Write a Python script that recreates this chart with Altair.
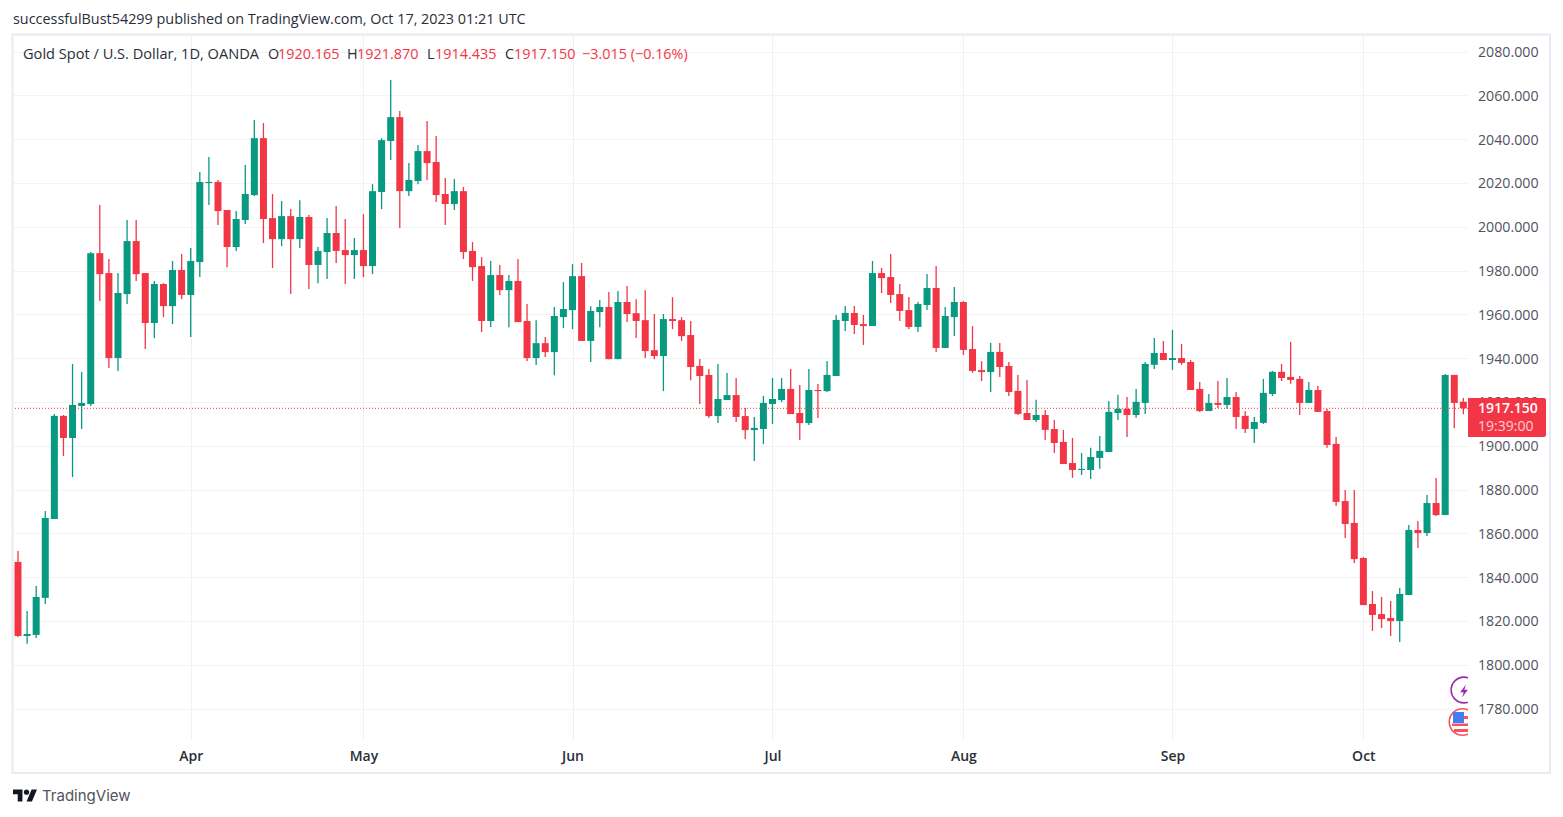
import altair as alt
import pandas as pd

highs = [1852.0,1824.6,1836.0,1870.3,1914.6,1914.1,1937.4,1933.8,1988.5,2010.0,
1985.3,1978.9,2003.1,2003.1,1978.9,1975.3,1974.3,1984.4,1987.6,1990.3,
2025.0,2031.9,2021.4,2007.7,2007.2,2028.2,2048.8,2047.4,2015.0,2011.8,
2008.1,2012.2,2005.4,1990.8,2004.0,2009.5,2003.6,1994.9,2005.8,2019.5,
2040.5,2067.0,2052.9,2029.1,2037.4,2048.3,2041.5,2022.3,2021.8,2018.2,
1993.1,1986.2,1984.4,1982.6,1978.0,1985.3,1964.8,1957.4,1949.7,1963.4,
1974.8,1983.0,1983.5,1963.8,1966.6,1970.2,1970.7,1973.0,1967.0,1971.1,
1960.2,1960.2,1967.9,1958.8,1957.0,1939.7,1935.1,1937.4,1933.3,1931.0,
1917.3,1913.2,1922.8,1931.0,1931.0,1935.1,1927.8,1935.1,1928.2,1938.7,
1959.8,1963.9,1963.9,1959.8,1984.4,1981.2,1987.6,1973.9,1968.0,1965.7,
1978.5,1982.1,1963.4,1972.5,1966.1,1954.7,1938.7,1947.0,1947.0,1938.3,
1932.4,1930.1,1921.0,1916.4,1911.8,1907.3,1903.6,1896.8,1899.1,1904.5,
1920.5,1923.3,1922.3,1926.0,1938.3,1949.3,1947.9,1952.9,1946.5,1939.2,
1929.2,1923.7,1929.6,1931.0,1924.6,1915.9,1913.2,1930.6,1934.2,1937.4,
1947.5,1931.9,1929.2,1927.4,1916.9,1904.1,1879.8,1879.8,1849.2,1833.7,
1831.0,1829.2,1835.1,1863.9,1865.7,1877.6,1885.3,1932.8,1932.4,1921.87]

body_tops = [1847.0,1814.1,1831.0,1867.1,1913.7,1913.7,1918.7,1919.6,1988.0,1988.0,
1978.9,1969.8,1993.5,1993.5,1978.9,1973.9,1973.9,1980.3,1980.3,1984.4,
2020.5,2020.5,2020.5,2007.7,2003.6,2015.0,2040.5,2040.5,2004.0,2004.9,
2004.9,2004.5,2004.5,1989.0,1997.2,1997.2,1989.4,1989.4,1989.4,2016.3,
2039.6,2050.1,2050.1,2021.4,2034.6,2034.6,2029.6,2015.0,2016.3,2016.3,
1989.0,1982.1,1978.0,1978.0,1975.3,1975.3,1957.0,1946.9,1946.9,1959.3,
1962.5,1977.5,1977.5,1961.6,1963.4,1963.4,1965.7,1965.7,1960.6,1957.4,
1943.7,1957.9,1957.9,1957.4,1950.6,1936.5,1932.4,1921.4,1923.2,1923.2,
1913.6,1908.2,1919.6,1921.4,1926.0,1926.0,1915.0,1925.5,1925.5,1932.4,
1957.5,1960.7,1960.7,1955.6,1978.9,1978.9,1977.1,1969.3,1962.0,1964.8,
1972.1,1972.1,1959.3,1965.7,1965.7,1944.2,1934.6,1942.9,1942.9,1936.5,
1925.1,1915.0,1914.1,1914.1,1907.7,1901.8,1892.2,1889.5,1894.9,1897.7,
1915.5,1916.9,1916.9,1920.1,1937.4,1942.4,1942.4,1940.1,1940.1,1938.3,
1926.0,1919.6,1919.6,1922.3,1922.3,1913.7,1910.9,1924.2,1933.8,1933.8,
1931.5,1930.6,1925.5,1925.5,1915.9,1900.9,1874.8,1864.8,1848.8,1827.8,
1823.2,1821.4,1832.4,1861.6,1861.6,1873.9,1873.9,1932.4,1932.4,1920.165]

body_bottoms = [1813.2,1813.2,1813.7,1830.6,1866.6,1903.6,1903.6,1918.2,1919.1,1978.4,
1940.1,1940.1,1969.3,1978.4,1956.1,1956.1,1963.8,1963.8,1968.9,1968.9,
1983.9,2020.0,2007.2,1990.8,1990.8,2003.1,2014.5,2003.6,1994.4,1994.4,
1994.4,1994.4,1982.6,1982.6,1988.5,1989.0,1987.1,1987.1,1982.1,1982.1,
2015.9,2039.2,2016.3,2016.3,2020.9,2029.1,2014.5,2010.4,2010.4,1988.5,
1981.6,1957.0,1957.0,1971.1,1971.1,1956.5,1940.1,1940.1,1942.8,1942.8,
1958.8,1962.0,1947.9,1947.9,1961.1,1939.6,1939.6,1960.2,1957.0,1943.3,
1941.0,1941.0,1957.0,1950.1,1936.0,1931.9,1913.6,1913.6,1920.9,1913.2,
1907.2,1907.2,1907.7,1919.1,1920.9,1914.5,1910.4,1910.4,1925.0,1925.0,
1931.9,1957.0,1955.2,1954.7,1954.7,1976.6,1968.9,1961.6,1954.3,1954.3,
1964.3,1944.7,1944.7,1958.8,1943.8,1934.2,1933.7,1933.7,1936.0,1924.6,
1914.6,1911.8,1911.8,1907.3,1901.3,1891.7,1889.0,1889.0,1889.0,1894.5,
1897.2,1915.0,1914.1,1914.1,1919.6,1937.0,1939.2,1939.2,1937.9,1925.5,
1915.9,1915.9,1918.7,1918.7,1913.2,1907.7,1907.7,1910.5,1923.7,1931.0,
1930.1,1919.6,1919.6,1915.5,1900.4,1874.4,1864.3,1848.3,1827.3,1822.8,
1820.9,1820.0,1820.0,1831.9,1860.2,1860.2,1868.4,1868.4,1919.6,1917.15]

lows = [1812.7,1809.6,1812.3,1827.8,1866.6,1895.4,1885.8,1907.7,1918.2,1966.1,
1935.5,1934.2,1964.8,1975.3,1944.2,1949.2,1958.8,1955.6,1967.0,1949.7,
1977.1,2010.0,2000.8,1981.6,1989.0,2001.3,2014.1,1992.6,1981.2,1991.2,
1969.3,1990.3,1971.6,1974.3,1976.2,1983.5,1973.9,1976.2,1977.1,1978.4,
2008.1,2030.5,1999.5,2014.1,2019.5,2021.4,2011.3,2000.8,2007.7,1985.3,
1975.3,1952.0,1954.2,1968.9,1954.2,1956.5,1938.7,1936.9,1940.6,1932.3,
1953.8,1953.3,1947.9,1938.3,1954.2,1939.6,1939.6,1956.5,1949.2,1940.1,
1939.6,1925.0,1953.3,1947.9,1930.0,1919.1,1912.7,1910.4,1920.9,1910.9,
1903.1,1893.1,1900.8,1910.0,1920.0,1914.5,1902.7,1909.5,1912.7,1924.6,
1931.9,1952.4,1951.1,1946.1,1954.7,1969.8,1965.2,1957.0,1953.4,1952.0,
1962.0,1942.9,1944.7,1950.2,1941.5,1933.3,1929.6,1924.6,1931.4,1922.8,
1914.1,1911.8,1910.9,1902.7,1896.8,1891.7,1885.4,1886.7,1884.9,1889.5,
1897.2,1911.8,1904.1,1912.8,1914.6,1935.1,1939.2,1934.7,1937.0,1925.5,
1915.5,1915.9,1917.3,1916.9,1907.7,1905.9,1901.3,1910.0,1922.8,1929.6,
1928.3,1914.1,1919.6,1915.5,1899.1,1872.6,1857.9,1846.5,1827.3,1815.5,
1816.8,1813.2,1810.4,1831.9,1853.4,1858.8,1868.0,1868.4,1908.1,1914.435]

directions = list(
    "rgggg" "rgggr" "rggrr" "grgrg" "ggrrg" "ggrrg" "rgrgg" "rrgrg"
    "ggrgg" "rrrgr" "rrgrg" "rrgrg" "ggrgg" "rgrrr" "rgrrr" "rrggr"
    "rgggg" "rrgrg" "ggrrg" "rrrrg" "grggr" "rrgrr" "rrgrr" "rrggg"
    "ggrgg" "grgrr" "rgrgr" "rgggr" "rrgrr" "rrrrr" "rrggr" "grgrr"
)

month_names = ["Apr", "May", "Jun", "Jul", "Aug", "Sep", "Oct"]
month_bars = [19, 38, 61, 83, 104, 127, 148]
price_ticks = [1780, 1800, 1820, 1840, 1860, 1880, 1900, 1920, 1940, 1960,
               1980, 2000, 2020, 2040, 2060, 2080]
last_close = 1917.15

published = "successfulBust54299 published on TradingView.com, Oct 17, 2023 01:21 UTC"
symbol_title = "Gold Spot / U.S. Dollar, 1D, OANDA"
ohlc_letters = ["O", "H", "L", "C"]
ohlc_values = ["1920.165", "1921.870", "1914.435", "1917.150"]
change_text = "\u22123.015 (\u22120.16%)"
price_label = "1917.150"
countdown = "19:39:00"
brand = "TradingView"

GREEN = "#089981"
RED = "#f23645"
FONT = "Open Sans"
TEXT_SIZE = 14.4
LEFT, TOP = 13, 35
W, H = 1455, 705

df = pd.DataFrame({
    "bar": range(len(highs)), "high": highs, "low": lows,
    "top": body_tops, "bottom": body_bottoms, "dir": directions,
})

x_scale = alt.Scale(domain=[-0.55, 159.51], nice=False, zero=False, padding=0)
y_scale = alt.Scale(domain=[1765.7, 2087.6], nice=False, zero=False, padding=0)
color = alt.Color("dir:N", scale=alt.Scale(domain=["g", "r"], range=[GREEN, RED]), legend=None)
label_expr = "".join(f"datum.value=={b}?'{n}':" for b, n in zip(month_bars, month_names)) + "''"

x_axis = alt.Axis(values=month_bars, labelExpr=label_expr, grid=True, gridColor="#eff0f4",
                  gridWidth=1, domain=False, ticks=False, title=None, labelPadding=9,
                  labelFont=FONT, labelFontSize=14, labelFontWeight=600, labelColor="#2a2e39",
                  labelOverlap=False, labelFlush=False)
y_axis = alt.Axis(values=price_ticks, format=".3f", orient="right", grid=True, gridColor="#f2f3f5",
                  gridWidth=1, domain=False, ticks=False, title=None, labelPadding=9.5,
                  labelFont=FONT, labelFontSize=14.2, labelColor="#50535e", labelOverlap=False,
                  labelFlush=False, labelOffset=0.8)

wicks = alt.Chart(df).mark_rule(strokeWidth=1.3).encode(
    x=alt.X("bar:Q", scale=x_scale, axis=x_axis),
    y=alt.Y("low:Q", scale=y_scale, axis=y_axis),
    y2="high:Q", color=color)
bodies = alt.Chart(df).mark_bar(size=7).encode(
    x=alt.X("bar:Q", scale=x_scale, axis=x_axis),
    y=alt.Y("bottom:Q", scale=y_scale, axis=y_axis),
    y2="top:Q", color=color)

one = pd.DataFrame({"k": [0]})


def label(text, px, py, col, size=14, weight=400, opacity=1.0, font=FONT):
    return alt.Chart(one).mark_text(text=text, align="left", baseline="middle", color=col,
                                    fontSize=size, fontWeight=weight, font=font, opacity=opacity
                                    ).encode(x=alt.value(px - LEFT), y=alt.value(py - TOP))


def box(x0, x1, y0, y1, fill, clip=False, **kw):
    return alt.Chart(one).mark_rect(fill=fill, clip=clip, **kw).encode(
        x=alt.value(x0 - LEFT), x2=alt.value(x1 - LEFT),
        y=alt.value(y0 - TOP), y2=alt.value(y1 - TOP))


def glyph(path, px, py, size, fill):
    return alt.Chart(one).mark_point(shape=path, size=size, filled=True, fill=fill, opacity=1,
                                     strokeWidth=0, clip=True).encode(
        x=alt.value(px - LEFT), y=alt.value(py - TOP))


def glyph_free(path, px, py, size, fill):
    return alt.Chart(one).mark_point(shape=path, size=size, filled=True, fill=fill, opacity=1,
                                     strokeWidth=0).encode(
        x=alt.value(px - LEFT), y=alt.value(py - TOP))


def ring(px, py, size, col):
    return alt.Chart(one).mark_point(shape="circle", size=size, filled=False, stroke=col, opacity=1,
                                     strokeWidth=1.6, clip=True).encode(
        x=alt.value(px - LEFT), y=alt.value(py - TOP))


frame = alt.Chart(one).mark_rect(fill="transparent", stroke="#e9eaf2", strokeWidth=2).encode(
    x=alt.value(12.5 - LEFT), x2=alt.value(1550 - LEFT),
    y=alt.value(34.5 - TOP), y2=alt.value(773 - TOP))

last_line = alt.Chart(pd.DataFrame({"p": [last_close]})).mark_rule(
    color=RED, strokeWidth=1, strokeDash=[1, 2]).encode(
    y=alt.Y("p:Q", scale=y_scale, axis=y_axis))

BOLT = "M 0.3 -1 L -0.6 0.2 L -0.05 0.2 L -0.3 1 L 0.6 -0.2 L 0.05 -0.2 Z"
LOGO = ("M -1 -0.507 H -0.212 V 0.507 H -0.606 V -0.113 H -1 Z "
        "M 0.127 0.507 L 0.549 -0.507 H 1 L 0.577 0.507 Z "
        "M -0.098 -0.28 A 0.225 0.225 0 1 0 0.352 -0.28 A 0.225 0.225 0 1 0 -0.098 -0.28 Z")

layers = [frame, wicks, bodies, last_line,
          ring(1464, 690, 660, "#9c27b0"), glyph(BOLT, 1464, 691, 170, "#9c27b0"),
          ring(1462.5, 722, 700, "#f7525f"),
          box(1453, 1464, 712, 723, "#3f7ff0", clip=True),
          box(1464, 1468, 716, 719, "#f7525f", clip=True),
          box(1452, 1468, 723.5, 726, "#f7525f", clip=True),
          box(1454, 1468, 729, 732, "#f7525f", clip=True),
          box(1468, 1546, 398, 437, RED, cornerRadiusTopRight=2, cornerRadiusBottomRight=2),
          label(price_label, 1478, 408.5, "#ffffff", weight=600),
          label(countdown, 1478, 426.5, "#ffffff", opacity=0.75),
          label(published, 13, 20, "#2a2e39", size=TEXT_SIZE),
          label(symbol_title, 23, 54.5, "#2a2e39", size=14.6),
          label(change_text, 582, 54.5, RED, size=TEXT_SIZE),
          glyph_free(LOGO, 25, 795.5, 576, "#131722"),
          label(brand, 42, 795.5, "#50535e", size=15, font="Inter"),
          ]
for letter, value, lx, vx in zip(ohlc_letters, ohlc_values, [268, 347, 427, 505], [278, 357, 435, 514]):
    layers.append(label(letter, lx, 54.5, "#2a2e39", size=TEXT_SIZE))
    layers.append(label(value, vx, 54.5, RED, size=TEXT_SIZE))

chart = alt.layer(*layers).resolve_scale(color="shared").properties(
    width=W, height=H,
    autosize=alt.AutoSizeParams(type="none"),
    padding={"left": LEFT - 8, "top": TOP - 8, "right": 87, "bottom": 69},
    background="#ffffff",
).configure_view(stroke=None)

chart.save("out.html", embed_options={"renderer": "svg", "actions": False})
